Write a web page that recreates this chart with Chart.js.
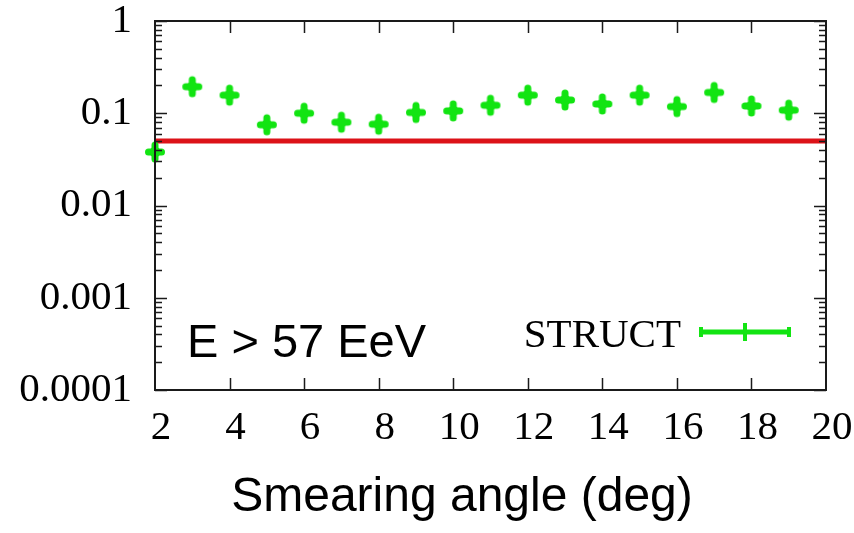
<!DOCTYPE html>
<html>
<head>
<meta charset="utf-8">
<title>STRUCT vs smearing angle</title>
<script src="https://cdn.jsdelivr.net/npm/chart.js@4.4.1/dist/chart.umd.min.js"></script>
<style>
  html, body { margin: 0; padding: 0; background: #ffffff; }
  #wrap { width: 854px; height: 533px; }
</style>
</head>
<body>
<div id="wrap"><canvas id="chart" width="854" height="533"></canvas></div>
<script>
// Smearing angles (deg) and the STRUCT values at each angle
const angles = [2, 3, 4, 5, 6, 7, 8, 9, 10, 11, 12, 13, 14, 15, 16, 17, 18, 19];
const structValues = [0.038, 0.194, 0.157, 0.075, 0.100, 0.080, 0.076, 0.102, 0.106,
                      0.122, 0.157, 0.139, 0.126, 0.157, 0.118, 0.168, 0.120, 0.108];

// Horizontal reference level across the full angle range
const refLevelX = [2, 20];
const refLevel = 0.05;

// Axis ticks
const xTicks = [2, 4, 6, 8, 10, 12, 14, 16, 18, 20];
const yTicks = [0.0001, 0.001, 0.01, 0.1, 1];
const yTickLabels = ['0.0001', '0.001', '0.01', '0.1', '1'];

const seriesName = 'STRUCT';
const noteText = 'E > 57 EeV';
const xTitle = 'Smearing angle (deg)';

const GREEN = '#12e412';
const RED = '#dc1218';
const INK = '#1a1a1a';
const SERIF = '"Liberation Serif", "Times New Roman", serif';
const SANS = '"Liberation Sans", Arial, sans-serif';

// Plus-shaped marker (crossed error bars with a filled core)
function makeMarker() {
  const c = document.createElement('canvas');
  const s = 24;
  c.width = s; c.height = s;
  const g = c.getContext('2d');
  const m = s / 2;
  g.fillStyle = GREEN;
  g.strokeStyle = GREEN;
  g.lineCap = 'round';
  g.lineWidth = 7;
  g.beginPath();
  g.moveTo(m - 6.5, m); g.lineTo(m + 6.5, m);
  g.moveTo(m, m - 7); g.lineTo(m, m + 7);
  g.stroke();
  g.beginPath();
  g.moveTo(m, m - 7.5); g.lineTo(m + 7.5, m); g.lineTo(m, m + 7.5); g.lineTo(m - 7.5, m);
  g.closePath();
  g.fill();
  return c;
}
const marker = makeMarker();

// Frame, inward tick marks, annotation, legend and axis title
const framePlugin = {
  id: 'frame',
  afterDatasetsDraw(chart) {
    const { ctx, chartArea: a, scales: { x, y } } = chart;
    ctx.save();
    ctx.strokeStyle = INK;
    ctx.lineWidth = 1.5;
    ctx.beginPath();
    // x ticks, top and bottom
    xTicks.forEach(v => {
      if (v === xTicks[0] || v === xTicks[xTicks.length - 1]) return;
      const px = Math.round(x.getPixelForValue(v)) + 0.5;
      ctx.moveTo(px, a.bottom); ctx.lineTo(px, a.bottom - 12);
      ctx.moveTo(px, a.top); ctx.lineTo(px, a.top + 12);
    });
    // y ticks (major and minor), left and right
    for (let e = -4; e <= 0; e++) {
      for (let k = 1; k <= 9; k++) {
        const v = k * Math.pow(10, e);
        if (v > 1.0000001) break;
        const py = Math.round(y.getPixelForValue(v)) + 0.5;
        const len = k === 1 ? 12 : 7;
        ctx.moveTo(a.left, py); ctx.lineTo(a.left + len, py);
        ctx.moveTo(a.right, py); ctx.lineTo(a.right - len, py);
      }
    }
    ctx.stroke();

    // plot frame
    ctx.lineWidth = 2;
    ctx.strokeRect(a.left, a.top, a.right - a.left, a.bottom - a.top);

    // energy cut annotation
    ctx.fillStyle = '#000000';
    ctx.font = '47px ' + SANS;
    ctx.textAlign = 'left';
    ctx.textBaseline = 'alphabetic';
    ctx.fillText(noteText, 187, 357);

    // x axis title
    ctx.font = '48px ' + SANS;
    ctx.textAlign = 'center';
    ctx.fillText(xTitle, 462, 511);

    // legend entry
    ctx.font = '41px ' + SERIF;
    ctx.textAlign = 'right';
    ctx.fillText(seriesName, 681, 347);
    const ly = 332;
    ctx.strokeStyle = GREEN;
    ctx.lineWidth = 5;
    ctx.lineCap = 'butt';
    ctx.beginPath();
    ctx.moveTo(700, ly); ctx.lineTo(790, ly);
    ctx.stroke();
    ctx.lineWidth = 4;
    ctx.beginPath();
    ctx.moveTo(701, ly - 5); ctx.lineTo(701, ly + 5);
    ctx.moveTo(789, ly - 5); ctx.lineTo(789, ly + 5);
    ctx.moveTo(745, ly - 9); ctx.lineTo(745, ly + 9);
    ctx.stroke();
    ctx.restore();
  }
};

new Chart(document.getElementById('chart'), {
  type: 'scatter',
  data: {
    datasets: [
      {
        label: 'reference',
        data: refLevelX.map(v => ({ x: v, y: refLevel })),
        showLine: true,
        borderColor: RED,
        borderWidth: 5,
        pointRadius: 0,
        order: 2
      },
      {
        label: seriesName,
        data: angles.map((v, i) => ({ x: v, y: structValues[i] })),
        pointStyle: marker,
        pointRadius: 12,
        clip: false,
        order: 1
      }
    ]
  },
  options: {
    responsive: false,
    animation: false,
    devicePixelRatio: 1,
    layout: { padding: { left: 0, top: 21, right: 28, bottom: 0 } },
    plugins: { legend: { display: false }, tooltip: { enabled: false } },
    scales: {
      x: {
        type: 'linear',
        min: 2,
        max: 20,
        grid: { display: false, drawTicks: false },
        border: { display: false },
        afterBuildTicks: s => { s.ticks = xTicks.map(v => ({ value: v })); },
        ticks: {
          color: '#000000',
          font: { family: SERIF, size: 41 },
          padding: 14,
          labelOffset: 6,
          maxRotation: 0,
          autoSkip: false,
          callback: v => String(v)
        },
        afterFit: s => { s.height = 143; s.paddingLeft = 0; s.paddingRight = 0; }
      },
      y: {
        type: 'logarithmic',
        min: 0.0001,
        max: 1,
        grid: { display: false, drawTicks: false },
        border: { display: false },
        afterBuildTicks: s => { s.ticks = yTicks.map(v => ({ value: v })); },
        ticks: {
          color: '#000000',
          font: { family: SERIF, size: 41 },
          padding: 23,
          autoSkip: false,
          callback: v => {
            const i = yTicks.findIndex(t => Math.abs(t - v) / t < 1e-6);
            return i >= 0 ? yTickLabels[i] : '';
          }
        },
        afterFit: s => { s.width = 155; s.paddingTop = 0; s.paddingBottom = 0; }
      }
    }
  },
  plugins: [framePlugin]
});
</script>
</body>
</html>
